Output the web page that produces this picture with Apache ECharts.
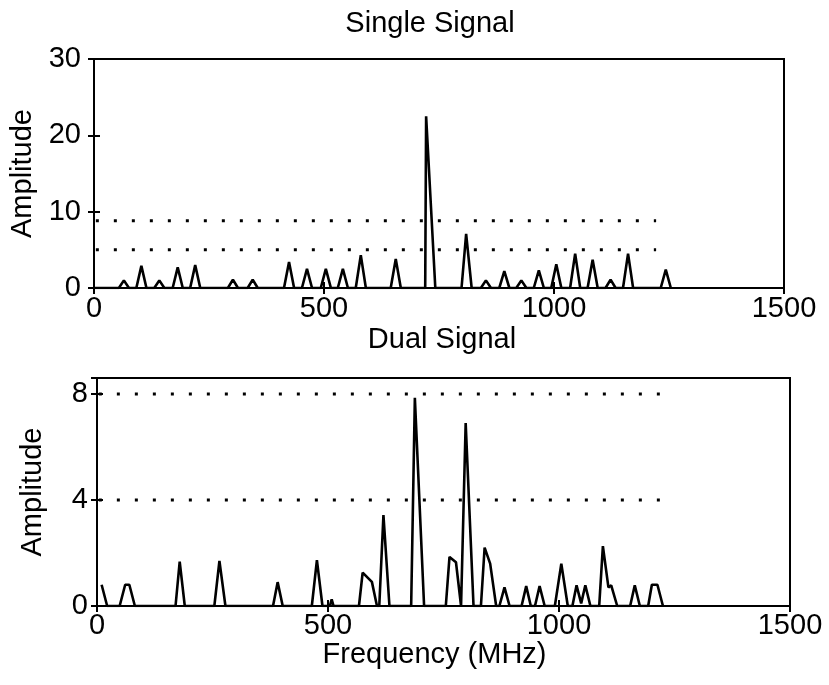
<!DOCTYPE html>
<html>
<head>
<meta charset="utf-8">
<script src="https://cdn.jsdelivr.net/npm/echarts@6/dist/echarts.min.js"></script>
<style>
html,body{margin:0;padding:0;background:#fff;}
#c{width:829px;height:685px;}
</style>
</head>
<body>
<div id="c"></div>
<script>
// Single Signal spectrum (frequency MHz, amplitude)
var singleFreq = [0, 54, 65, 76, 92, 103, 114, 131, 142, 153, 171, 182, 193, 209, 220, 231, 291, 302, 313, 334, 345, 356, 413, 424, 435, 452, 463, 474, 493, 504, 515, 530, 541, 552, 569, 580, 591, 645, 656, 667, 720, 722, 742, 799, 809, 821, 841, 852, 863, 881, 892, 903, 918, 929, 940, 956, 967, 978, 994, 1005, 1016, 1035, 1046, 1057, 1073, 1084, 1095, 1112, 1123, 1134, 1150, 1161, 1172, 1232, 1243, 1254];
var singleAmp  = [0, 0, 1.0, 0, 0, 2.9, 0, 0, 1.0, 0, 0, 2.7, 0, 0, 3.0, 0, 0, 1.1, 0, 0, 1.1, 0, 0, 3.4, 0, 0, 2.5, 0, 0, 2.5, 0, 0, 2.5, 0, 0, 4.3, 0, 0, 3.8, 0, 0, 22.5, 0, 0, 7.1, 0, 0, 1.0, 0, 0, 2.2, 0, 0, 1.0, 0, 0, 2.3, 0, 0, 3.1, 0, 0, 4.5, 0, 0, 3.7, 0, 0, 1.1, 0, 0, 4.5, 0, 0, 2.4, 0];
var singleLevels = [8.8, 5];

// Dual Signal spectrum
var dualFreq = [10, 22, 49, 61, 70, 82, 170, 179, 190, 254, 265, 278, 381, 391, 402, 465, 476, 488, 504, 508, 512, 567, 575, 595, 606, 611, 620, 633, 680, 688, 708, 755, 763, 777, 788, 791, 798, 815, 831, 839, 851, 864, 871, 882, 893, 919, 929, 939, 948, 958, 969, 991, 1005, 1019, 1029, 1038, 1048, 1057, 1068, 1087, 1095, 1107, 1113, 1126, 1154, 1164, 1175, 1193, 1201, 1213, 1225];
var dualAmp  = [0.8, 0, 0, 0.8, 0.8, 0, 0, 1.67, 0, 0, 1.7, 0, 0, 0.9, 0, 0, 1.73, 0, 0, 0.25, 0, 0, 1.26, 0.91, 0, 0, 3.43, 0, 0, 7.85, 0, 0, 1.85, 1.65, 0, 0, 6.9, 0, 0, 2.2, 1.6, 0, 0, 0.7, 0, 0, 0.75, 0, 0, 0.75, 0, 0, 1.6, 0, 0, 0.78, 0.1, 0.78, 0, 0, 2.26, 0.7, 0.78, 0, 0, 0.78, 0, 0, 0.8, 0.8, 0];
var dualLevels = [8, 4];

var levelStart = 4, levelEnd = 1222;
var xTicks = [0, 500, 1000, 1500];
var singleYTicks = [0, 10, 20, 30];
var dualYTicks = [0, 4, 8];

function pairs(f, a) { return f.map(function (v, i) { return [v, a[i]]; }); }

var FONT = '"Liberation Sans", Arial, Helvetica, sans-serif';
var FS = 29;
var tickStyle = { inside: true, length: 6, lineStyle: { color: '#000', width: 2 } };
var lineAx = { show: true, lineStyle: { color: '#000', width: 2 } };
var plain = function (v) { return String(v); };
var lbl = function (m) { return { fontSize: FS, color: '#000', fontFamily: FONT, margin: m, formatter: plain }; };

var series = [
  { type: 'line', xAxisIndex: 0, yAxisIndex: 0, data: pairs(singleFreq, singleAmp), symbol: 'none', lineStyle: { color: '#000', width: 2.6 } },
  { type: 'line', xAxisIndex: 2, yAxisIndex: 2, data: pairs(dualFreq, dualAmp), symbol: 'none', lineStyle: { color: '#000', width: 2.6 } }
];
singleLevels.forEach(function (v) {
  series.push({ type: 'line', xAxisIndex: 0, yAxisIndex: 0, data: [[levelStart, v], [levelEnd, v]], symbol: 'none', lineStyle: { color: '#000', width: 3, type: [3, 15] } });
});
dualLevels.forEach(function (v) {
  series.push({ type: 'line', xAxisIndex: 2, yAxisIndex: 2, data: [[levelStart, v], [levelEnd, v]], symbol: 'none', lineStyle: { color: '#000', width: 3, type: [3, 15] } });
});

var option = {
  animation: false,
  backgroundColor: '#fff',
  title: [
    { text: 'Single Signal', left: 430, top: 9, textAlign: 'center', padding: 0, textStyle: { fontSize: FS, fontWeight: 'normal', color: '#000', fontFamily: FONT } },
    { text: 'Dual Signal', left: 442, top: 325, textAlign: 'center', padding: 0, textStyle: { fontSize: FS, fontWeight: 'normal', color: '#000', fontFamily: FONT } }
  ],
  grid: [
    { left: 94, top: 59, width: 690, height: 229, show: true, borderColor: '#000', borderWidth: 2, backgroundColor: 'transparent', containLabel: false, outerBoundsMode: 'none' },
    { left: 97, top: 378, width: 693, height: 228, show: true, borderColor: '#000', borderWidth: 2, backgroundColor: 'transparent', containLabel: false, outerBoundsMode: 'none' }
  ],
  xAxis: [
    { type: 'value', gridIndex: 0, min: xTicks[0], max: xTicks[3], interval: 500, axisLine: lineAx, axisTick: tickStyle, axisLabel: lbl(6), splitLine: { show: false } },
    { type: 'value', gridIndex: 0, position: 'top', min: xTicks[0], max: xTicks[3], interval: 500, axisLine: lineAx, axisTick: tickStyle, axisLabel: { show: false }, splitLine: { show: false } },
    { type: 'value', gridIndex: 1, min: xTicks[0], max: xTicks[3], interval: 500, axisLine: lineAx, axisTick: tickStyle, axisLabel: lbl(5), splitLine: { show: false },
      name: 'Frequency (MHz)', nameLocation: 'middle', nameGap: 31, nameTextStyle: { fontSize: FS, color: '#000', fontFamily: FONT, padding: [0, 18, 0, 0] } },
    { type: 'value', gridIndex: 1, position: 'top', min: xTicks[0], max: xTicks[3], interval: 500, axisLine: lineAx, axisTick: tickStyle, axisLabel: { show: false }, splitLine: { show: false } }
  ],
  yAxis: [
    { type: 'value', gridIndex: 0, min: singleYTicks[0], max: singleYTicks[3], interval: 10, axisLine: lineAx, axisTick: tickStyle, axisLabel: lbl(13), splitLine: { show: false },
      name: 'Amplitude', nameLocation: 'middle', nameGap: 51, nameRotate: 90, nameTextStyle: { fontSize: FS, color: '#000', fontFamily: FONT } },
    { type: 'value', gridIndex: 0, position: 'right', min: 0, max: 30, interval: 10, axisLine: lineAx, axisTick: tickStyle, axisLabel: { show: false }, splitLine: { show: false } },
    { type: 'value', gridIndex: 1, min: 0, max: 8.6, interval: 4, axisLine: lineAx, axisTick: tickStyle, splitLine: { show: false },
      axisLabel: { fontSize: FS, color: '#000', fontFamily: FONT, margin: 9, showMaxLabel: false, formatter: function (v) { return dualYTicks.indexOf(v) >= 0 ? String(v) : ''; } },
      name: 'Amplitude', nameLocation: 'middle', nameGap: 50, nameRotate: 90, nameTextStyle: { fontSize: FS, color: '#000', fontFamily: FONT } },
    { type: 'value', gridIndex: 1, position: 'right', min: 0, max: 8.6, interval: 4, axisLine: lineAx, axisTick: tickStyle, axisLabel: { show: false }, splitLine: { show: false } }
  ],
  series: series
};

var chart = echarts.init(document.getElementById('c'), null, { renderer: 'canvas' });
chart.setOption(option);
</script>
</body>
</html>
